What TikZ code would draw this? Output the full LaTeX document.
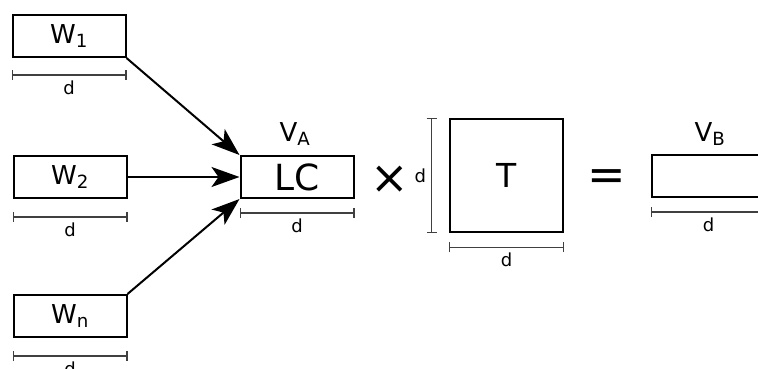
\documentclass[tikz,border=0pt]{standalone}
\usepackage{fontspec}
\setmainfont{DejaVu Sans}
\usepackage{tikz}
\usetikzlibrary{
  arrows.meta,
  positioning
}

\begin{document}
\begin{tikzpicture}[
  x=1pt, y=-1pt,
  vecbox/.style={
    draw, line width=2pt,
    minimum width=113pt,
    minimum height=42pt,
    inner sep=0pt,
    font=\fontsize{26}{30}\selectfont
  },
  matbox/.style={
    draw, line width=2.6pt,
    minimum width=113pt,
    minimum height=113pt,
    inner sep=0pt,
    font=\fontsize{33}{38}\selectfont
  },
  dim/.style={
    {Bar[width=10pt]}-{Bar[width=10pt]},
    line width=1.2pt, color=black!75
  },
  dimlabel/.style={
    font=\fontsize{18}{21}\selectfont,
    inner sep=2pt, text=black
  },
  vlabel/.style={
    font=\fontsize{26}{30}\selectfont,
    inner sep=0pt
  },
  opsign/.style={
    font=\fontsize{46}{50}\selectfont,
    inner sep=0pt
  },
  arrow/.style={
    -{Stealth[length=28pt, width=20pt, inset=7pt]},
    line width=2pt
  }
]
\useasboundingbox (0,0) rectangle (758,369);

% input vectors
\node[vecbox] (w1) at (69,36) {W\textsubscript{1}};
\node[vecbox] (w2) at (70,177) {W\textsubscript{2}};
\node[vecbox] (wn) at (70,316) {W\textsubscript{n}};

% linear combination
\node[vecbox, font=\fontsize{36}{40}\selectfont]
  (lc) at (297,177) {LC};
\node[vlabel] (va) at (295,134) {V\textsubscript{A}};

\node[opsign] (times) at (390,180) {×};

\node[matbox] (t) at (506.5,175.5) {T};

\node[opsign] (equals) at (607,180) {=};

\node[vecbox] (vb) at (708.5,176) {};
\node[vlabel] (vblabel) at (710,134) {V\textsubscript{B}};

\draw[arrow] (w1.south east) -- (lc.north west);
\draw[arrow] (w2.east) -- (lc.west);
\draw[arrow] (wn.north east) -- (lc.south west);

% dimensions
\draw[dim] ([yshift=-17pt]w1.south west) -- ([yshift=-17pt]w1.south east)
  node[midway, below=3pt, dimlabel] {d};
\draw[dim] ([yshift=-18pt]w2.south west) -- ([yshift=-18pt]w2.south east)
  node[midway, below=3pt, dimlabel] {d};
\draw[dim] ([yshift=-18pt]wn.south west) -- ([yshift=-18pt]wn.south east)
  node[midway, below=3pt, dimlabel] {d};
\draw[dim] ([yshift=-14pt]lc.south west) -- ([yshift=-14pt]lc.south east)
  node[midway, below=3pt, dimlabel] {d};
\draw[dim] ([yshift=-14pt]t.south west) -- ([yshift=-14pt]t.south east)
  node[midway, below=3pt, dimlabel] {d};
\draw[dim] ([xshift=-17pt]t.south west) -- ([xshift=-17pt]t.north west)
  node[midway, left=3pt, dimlabel] {d};
\draw[dim] ([yshift=-14pt]vb.south west) -- ([yshift=-14pt]vb.south east)
  node[midway, below=3pt, dimlabel] {d};

\end{tikzpicture}
\end{document}
